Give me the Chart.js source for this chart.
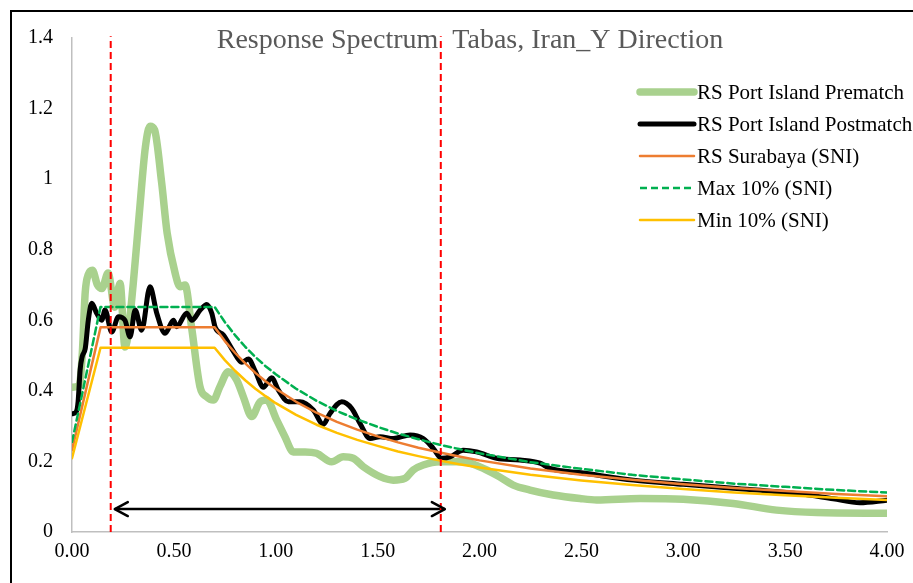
<!DOCTYPE html>
<html><head><meta charset="utf-8">
<script src="https://cdn.jsdelivr.net/npm/chart.js@4.4.1/dist/chart.umd.min.js"></script>
<style>html,body{margin:0;padding:0;background:#fff;overflow:hidden}canvas{display:block}</style>
</head><body>
<canvas id="c" width="913" height="583"></canvas>
<script>
// ---------- data ----------
const chartTitle = 'Response Spectrum  Tabas, Iran_Y Direction';
const seriesNames = ['RS Port Island Prematch', 'RS Port Island Postmatch', 'RS Surabaya (SNI)', 'Max 10% (SNI)', 'Min 10% (SNI)'];

const premPeriod = [0, 0.035, 0.05, 0.065, 0.08, 0.1, 0.125, 0.147, 0.177, 0.21, 0.236, 0.26, 0.27, 0.3, 0.33, 0.36, 0.383, 0.405, 0.44, 0.467, 0.506, 0.53, 0.555, 0.587, 0.628, 0.661, 0.694, 0.726, 0.767, 0.808, 0.841, 0.882, 0.923, 0.955, 1.005, 1.045, 1.086, 1.144, 1.2, 1.274, 1.331, 1.38, 1.43, 1.512, 1.577, 1.634, 1.675, 1.724, 1.806, 1.92, 2.0, 2.084, 2.166, 2.248, 2.362, 2.493, 2.575, 2.788, 3.0, 3.245, 3.458, 3.655, 4.0];
const premSa = [0.41, 0.415, 0.5, 0.68, 0.73, 0.742, 0.7, 0.69, 0.734, 0.637, 0.705, 0.524, 0.54, 0.70, 0.90, 1.09, 1.15, 1.14, 0.99, 0.847, 0.734, 0.695, 0.70, 0.58, 0.412, 0.383, 0.374, 0.412, 0.454, 0.431, 0.383, 0.327, 0.369, 0.374, 0.317, 0.27, 0.227, 0.227, 0.223, 0.199, 0.213, 0.209, 0.185, 0.157, 0.147, 0.152, 0.176, 0.19, 0.199, 0.199, 0.185, 0.161, 0.133, 0.119, 0.105, 0.095, 0.091, 0.095, 0.093, 0.081, 0.062, 0.055, 0.053];

const postPeriod = [0, 0.02, 0.03, 0.04, 0.05, 0.065, 0.08, 0.097, 0.121, 0.146, 0.162, 0.195, 0.228, 0.26, 0.285, 0.31, 0.342, 0.383, 0.416, 0.457, 0.498, 0.514, 0.563, 0.588, 0.629, 0.662, 0.686, 0.703, 0.743, 0.792, 0.833, 0.866, 0.9, 0.939, 0.98, 1.013, 1.062, 1.119, 1.184, 1.233, 1.266, 1.324, 1.373, 1.413, 1.463, 1.512, 1.577, 1.659, 1.724, 1.773, 1.814, 1.855, 1.92, 1.986, 2.084, 2.199, 2.297, 2.346, 2.51, 2.755, 3.0, 3.245, 3.573, 3.736, 3.867, 4.0];
const postSa = [0.335, 0.34, 0.37, 0.46, 0.497, 0.52, 0.6, 0.648, 0.62, 0.6, 0.629, 0.567, 0.61, 0.6, 0.553, 0.629, 0.572, 0.695, 0.62, 0.563, 0.6, 0.582, 0.62, 0.6, 0.629, 0.645, 0.62, 0.58, 0.558, 0.512, 0.481, 0.49, 0.455, 0.41, 0.437, 0.402, 0.369, 0.369, 0.346, 0.305, 0.336, 0.369, 0.35, 0.308, 0.265, 0.27, 0.265, 0.275, 0.265, 0.237, 0.209, 0.213, 0.232, 0.227, 0.209, 0.204, 0.195, 0.18, 0.167, 0.147, 0.135, 0.124, 0.108, 0.094, 0.083, 0.09];

const designPeriod = [0, 0.14, 0.7, 0.75, 0.8, 0.85, 0.9, 0.95, 1.0, 1.1, 1.2, 1.3, 1.4, 1.5, 1.6, 1.7, 1.8, 1.9, 2.0, 2.25, 2.5, 2.75, 3.0, 3.25, 3.5, 3.75, 4.0];
const surabayaSa = [0.232, 0.58, 0.58, 0.541, 0.508, 0.478, 0.451, 0.427, 0.406, 0.369, 0.338, 0.312, 0.29, 0.271, 0.254, 0.239, 0.226, 0.214, 0.203, 0.18, 0.162, 0.148, 0.135, 0.125, 0.116, 0.108, 0.1015];
const max10Sa = [0.255, 0.638, 0.638, 0.595, 0.558, 0.525, 0.496, 0.47, 0.447, 0.406, 0.372, 0.343, 0.319, 0.298, 0.279, 0.263, 0.248, 0.235, 0.223, 0.198, 0.179, 0.162, 0.149, 0.137, 0.128, 0.119, 0.112];
const min10Sa = [0.209, 0.522, 0.522, 0.487, 0.457, 0.43, 0.406, 0.385, 0.365, 0.332, 0.304, 0.281, 0.261, 0.244, 0.228, 0.215, 0.203, 0.192, 0.183, 0.162, 0.146, 0.133, 0.122, 0.112, 0.104, 0.097, 0.091];

const markerPeriods = [0.19, 1.81];
const arrowSpan = [0.21, 1.83];
const arrowLevel = 0.065;

const xTicks = [0, 0.5, 1, 1.5, 2, 2.5, 3, 3.5, 4];
const yTicks = [0, 0.2, 0.4, 0.6, 0.8, 1, 1.2, 1.4];

// ---------- build ----------
const pts = (xs, ys) => xs.map((x, i) => ({x: x, y: ys[i]}));
const colors = ['#A9D18E', '#000000', '#ED7D31', '#00B050', '#FFC000'];
const widths = [7.5, 5, 2.5, 2.5, 2.5];
const dashes = [[], [], [], [7, 4], []];
const serif = "'Liberation Serif','Times New Roman',serif";

const datasets = [
  {label: seriesNames[0], data: pts(premPeriod, premSa), order: 5, cubicInterpolationMode: 'monotone'},
  {label: seriesNames[1], data: pts(postPeriod, postSa), order: 4, cubicInterpolationMode: 'monotone'},
  {label: seriesNames[2], data: pts(designPeriod, surabayaSa), order: 3, tension: 0},
  {label: seriesNames[3], data: pts(designPeriod, max10Sa), order: 2, tension: 0},
  {label: seriesNames[4], data: pts(designPeriod, min10Sa), order: 1, tension: 0}
].map((d, i) => Object.assign(d, {
  borderColor: colors[i], backgroundColor: colors[i], borderWidth: widths[i],
  borderDash: dashes[i], pointRadius: 0, fill: false, borderCapStyle: 'round', borderJoinStyle: 'round'
}));

markerPeriods.forEach(t => datasets.push({
  label: 'marker', data: [{x: t, y: 0}, {x: t, y: 1.405}], borderColor: '#FF0000', borderWidth: 2,
  borderDash: [7, 4], pointRadius: 0, order: 0, clip: false, isAux: true
}));
datasets.push({
  label: 'range', data: [{x: arrowSpan[0], y: arrowLevel}, {x: arrowSpan[1], y: arrowLevel}],
  borderColor: '#000000', borderWidth: 2.5, pointRadius: 0, order: 0, isAux: true, isArrow: true
});

const decor = {
  id: 'decor',
  beforeDraw(chart) {
    const ctx = chart.ctx;
    ctx.save();
    ctx.fillStyle = '#fff';
    ctx.fillRect(0, 0, chart.width, chart.height);
    ctx.strokeStyle = '#000';
    ctx.lineWidth = 2;
    ctx.beginPath();
    ctx.moveTo(11, chart.height + 5); ctx.lineTo(11, 11); ctx.lineTo(chart.width + 5, 11);
    ctx.stroke();
    ctx.restore();
  },
  afterDatasetsDraw(chart) {
    const ctx = chart.ctx;
    const xs = chart.scales.x, ys = chart.scales.y;
    chart.data.datasets.forEach(d => {
      if (!d.isArrow) return;
      const y = ys.getPixelForValue(d.data[0].y);
      const x1 = xs.getPixelForValue(d.data[0].x), x2 = xs.getPixelForValue(d.data[1].x);
      ctx.save();
      ctx.strokeStyle = '#000'; ctx.lineWidth = 2.5; ctx.lineCap = 'round'; ctx.lineJoin = 'round';
      ctx.beginPath();
      ctx.moveTo(x1 + 13, y - 7); ctx.lineTo(x1, y); ctx.lineTo(x1 + 13, y + 7);
      ctx.moveTo(x2 - 13, y - 7); ctx.lineTo(x2, y); ctx.lineTo(x2 - 13, y + 7);
      ctx.stroke();
      ctx.restore();
    });
  },
  afterDraw(chart) {
    const ctx = chart.ctx;
    ctx.save();
    ctx.fillStyle = '#595959';
    ctx.font = '28px ' + serif;
    ctx.textAlign = 'center'; ctx.textBaseline = 'middle';
    ctx.fillText(chartTitle, 470, 41);
    ctx.font = '21px ' + serif;
    ctx.textAlign = 'left';
    chart.data.datasets.forEach((d, i) => {
      if (d.isAux) return;
      const y = 92 + 32 * i;
      ctx.strokeStyle = d.borderColor; ctx.lineWidth = d.borderWidth;
      ctx.setLineDash(d.borderDash || []);
      ctx.lineCap = d.borderDash && d.borderDash.length ? 'butt' : 'round';
      ctx.beginPath(); ctx.moveTo(640, y); ctx.lineTo(694, y); ctx.stroke();
      ctx.setLineDash([]);
      ctx.fillStyle = '#000';
      ctx.fillText(d.label, 697, y + 1);
    });
    ctx.restore();
  }
};

new Chart(document.getElementById('c'), {
  type: 'line',
  data: {datasets: datasets},
  options: {
    responsive: false, animation: false, devicePixelRatio: 1,
    layout: {padding: {left: 0, right: 26, top: 38, bottom: 0}},
    plugins: {legend: {display: false}, tooltip: {enabled: false}, title: {display: false}},
    scales: {
      x: {
        type: 'linear', min: 0, max: 4,
        afterBuildTicks: s => { s.ticks = xTicks.map(v => ({value: v})); },
        afterFit: s => { s.height = 51; },
        grid: {display: false, drawTicks: false},
        border: {display: true, color: '#BFBFBF', width: 1.5},
        ticks: {color: '#000', font: {family: serif, size: 20}, padding: 8, maxRotation: 0,
                callback: v => Number(v).toFixed(2)}
      },
      y: {
        type: 'linear', min: 0, max: 1.4,
        afterBuildTicks: s => { s.ticks = yTicks.map(v => ({value: v})); },
        afterFit: s => { s.width = 72; },
        grid: {display: false, drawTicks: false},
        border: {display: true, color: '#BFBFBF', width: 1.5},
        ticks: {color: '#000', font: {family: serif, size: 20}, padding: 19,
                callback: v => String(Number(Number(v).toFixed(1)))}
      }
    }
  },
  plugins: [decor]
});
</script>
</body></html>
